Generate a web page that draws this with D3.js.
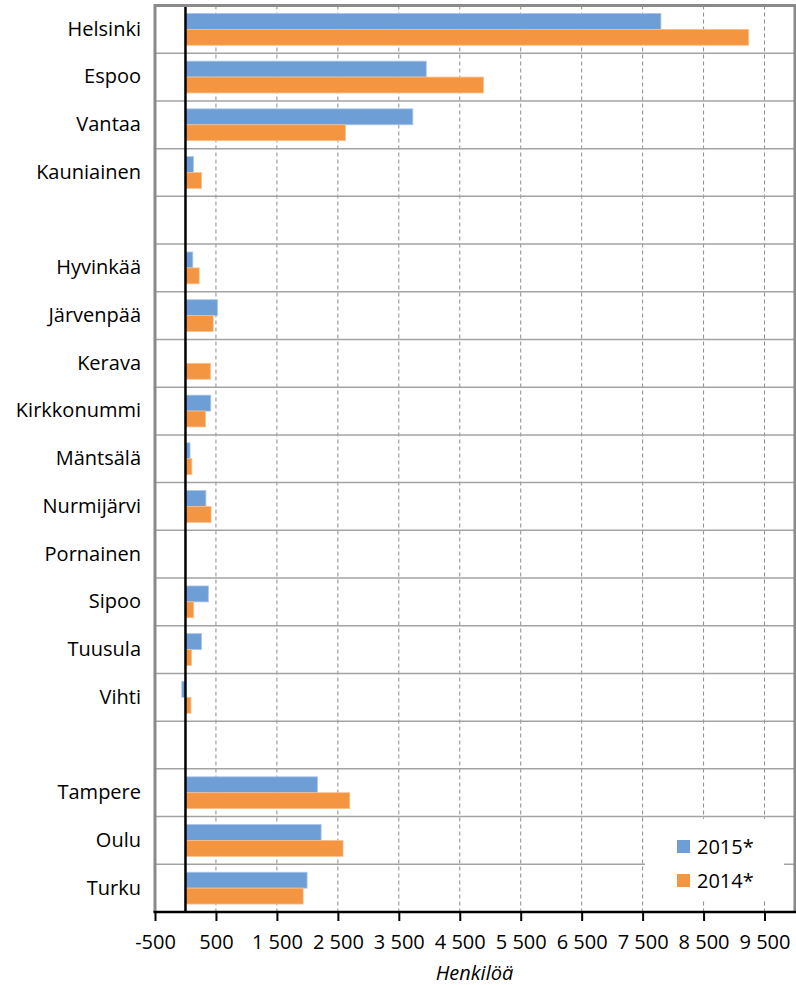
<!DOCTYPE html>
<html>
<head>
<meta charset="utf-8">
<script src="https://cdn.jsdelivr.net/npm/d3@7"></script>
<style>
  body { margin: 0; background: #fff; }
  svg text { font-family: "Open Sans", sans-serif; fill: #000; }
</style>
</head>
<body>
<div class="chart"></div>
<script>
const w = 796;
const h = 985;

// data (blank rows are the gaps between groups)
const categories = ["Helsinki", "Espoo", "Vantaa", "Kauniainen", " ",
  "Hyvinkää", "Järvenpää", "Kerava", "Kirkkonummi", "Mäntsälä", "Nurmijärvi",
  "Pornainen", "Sipoo", "Tuusula", "Vihti", "  ", "Tampere", "Oulu", "Turku"];
const v2015 = [7800, 3950, 3730, 130, null, 120, 525, 0, 415, 75, 335, 0, 375, 265, -60, null, 2165, 2225, 1995];
const v2014 = [9240, 4890, 2625, 265, null, 225, 455, 410, 330, 105, 420, 0, 135, 100, 90, null, 2695, 2585, 1930];
const seriesNames = ["2015*", "2014*"];
const colors = ["#6d9ed5", "#f39541"];
const ticks = [-500, 500, 1500, 2500, 3500, 4500, 5500, 6500, 7500, 8500, 9500];

const plot = {left: 155, right: 795, top: 5.5, bottom: 912};

const fmt = d3.formatLocale({decimal: ",", thousands: " ", grouping: [3], currency: ["", ""], minus: "-"}).format(",d");

const svg = d3.select(".chart").append("svg").attr("width", w).attr("height", h);

const x = d3.scaleLinear().domain([-500, 10000]).range([plot.left, plot.right]);
const y = d3.scaleBand().domain(categories).range([plot.top, plot.bottom]).padding(0);

// gap width 50%: two bars share band / 1.5
const groupH = y.bandwidth() / 1.5;
const barH = groupH / 2;

// vertical dashed gridlines
svg.append("g")
  .selectAll("line")
  .data(ticks.slice(1))
  .enter()
  .append("line")
  .attr("x1", d => x(d)).attr("x2", d => x(d))
  .attr("y1", plot.top).attr("y2", plot.bottom)
  .attr("stroke", "#8c8c8c")
  .attr("stroke-width", 1)
  .attr("stroke-dasharray", "4,3");

// horizontal separators between categories
svg.append("g")
  .selectAll("line")
  .data(categories.slice(1))
  .enter()
  .append("line")
  .attr("x1", plot.left).attr("x2", plot.right)
  .attr("y1", d => y(d)).attr("y2", d => y(d))
  .attr("stroke", "#a3a3a3")
  .attr("stroke-width", 1.5);

// bars
const series = [v2015, v2014];
series.forEach((vals, s) => {
  svg.append("g")
    .selectAll("rect")
    .data(categories.map((c, i) => ({c: c, v: vals[i]})).filter(d => d.v))
    .enter()
    .append("rect")
    .attr("x", d => x(Math.min(0, d.v)))
    .attr("width", d => Math.abs(x(d.v) - x(0)))
    .attr("y", d => y(d.c) + (y.bandwidth() - groupH) / 2 + s * barH)
    .attr("height", barH)
    .attr("fill", colors[s])
    .attr("stroke", s == 0 ? "#a8c5ea" : "#f8c08e")
    .attr("stroke-width", 0.8);
});

// zero line
svg.append("line")
  .attr("x1", x(0)).attr("x2", x(0))
  .attr("y1", plot.top).attr("y2", plot.bottom)
  .attr("stroke", "#000")
  .attr("stroke-width", 2.5);

// plot frame (left, top, right)
svg.append("path")
  .attr("d", `M${plot.left},${plot.bottom} V${plot.top} H${plot.right} V${plot.bottom}`)
  .attr("fill", "none")
  .attr("stroke", "#8a8a8a")
  .attr("stroke-width", 3);

// category labels
const yAxis = svg.append("g")
  .attr("transform", "translate(" + plot.left + ",0)")
  .call(d3.axisLeft(y).tickSize(0).tickPadding(14));
yAxis.select(".domain").remove();
yAxis.selectAll("text")
  .style("font-family", "'Open Sans', sans-serif")
  .style("font-size", "20px")
  .attr("fill", "#000");

// x axis
const xAxis = svg.append("g")
  .attr("transform", "translate(0," + plot.bottom + ")")
  .call(d3.axisBottom(x).tickValues(ticks).tickFormat(fmt).tickSize(9).tickSizeOuter(0).tickPadding(14));
xAxis.select(".domain")
  .attr("d", `M${plot.left - 1.5},0 H${plot.right + 1.5}`)
  .attr("stroke", "#000")
  .attr("stroke-width", 2.5);
xAxis.selectAll(".tick line").attr("stroke", "#000").attr("stroke-width", 2);
xAxis.selectAll("text")
  .style("font-family", "'Open Sans', sans-serif")
  .style("font-size", "20px")
  .attr("fill", "#000");

svg.append("text")
  .attr("x", (plot.left + plot.right) / 2 - 0.5)
  .attr("y", 980)
  .attr("text-anchor", "middle")
  .style("font-size", "20px")
  .style("font-style", "italic")
  .text("Henkilöä");

// legend
const legend = svg.append("g").attr("transform", "translate(645,819)");
legend.append("rect")
  .attr("width", 139).attr("height", 80)
  .attr("fill", "#fff");
seriesNames.forEach((n, i) => {
  legend.append("rect")
    .attr("x", 32).attr("y", 21 + i * 34)
    .attr("width", 13).attr("height", 13)
    .attr("fill", colors[i]);
  legend.append("text")
    .attr("x", 52).attr("y", 27.5 + i * 34)
    .attr("dy", "0.35em")
    .style("font-size", "20px")
    .text(n);
});
</script>
</body>
</html>
